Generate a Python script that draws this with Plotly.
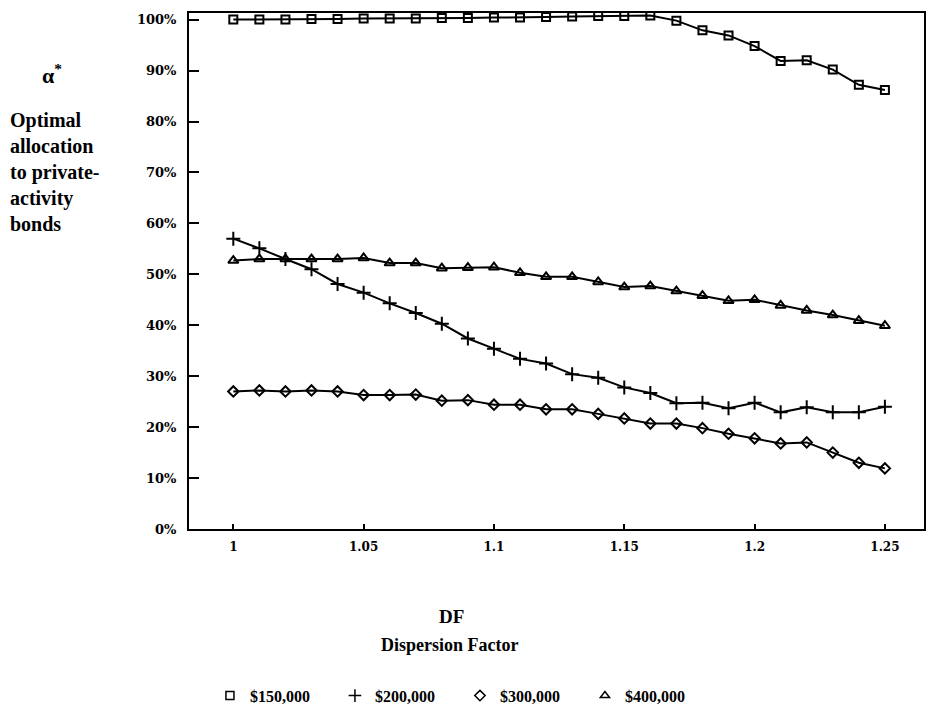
import plotly.graph_objects as go

DF = [1.00, 1.01, 1.02, 1.03, 1.04, 1.05, 1.06, 1.07, 1.08, 1.09, 1.10, 1.11, 1.12,
      1.13, 1.14, 1.15, 1.16, 1.17, 1.18, 1.19, 1.20, 1.21, 1.22, 1.23, 1.24, 1.25]

s150 = [100.0, 100.0, 100.0, 100.1, 100.1, 100.2, 100.2, 100.2, 100.3, 100.3, 100.4, 100.4, 100.5,
        100.6, 100.7, 100.7, 100.8, 99.8, 97.9, 96.9, 94.8, 91.9, 92.0, 90.2, 87.2, 86.2]
s200 = [57.0, 55.1, 53.0, 51.0, 48.1, 46.4, 44.3, 42.4, 40.3, 37.4, 35.4, 33.4, 32.5,
        30.4, 29.7, 27.8, 26.7, 24.7, 24.8, 23.7, 24.8, 22.9, 23.9, 22.9, 22.9, 24.0]
s300 = [27.0, 27.2, 27.0, 27.2, 27.0, 26.3, 26.3, 26.4, 25.2, 25.3, 24.4, 24.4, 23.5,
        23.5, 22.6, 21.7, 20.7, 20.7, 19.8, 18.7, 17.8, 16.8, 17.0, 15.0, 13.0, 11.9]
s400 = [52.7, 53.0, 53.0, 53.0, 53.0, 53.2, 52.2, 52.2, 51.2, 51.3, 51.4, 50.3, 49.5,
        49.5, 48.5, 47.5, 47.7, 46.7, 45.8, 44.8, 45.0, 43.9, 42.9, 42.0, 40.9, 39.9]

names = ["$150,000", "$200,000", "$300,000", "$400,000"]
xticks = [1, 1.05, 1.1, 1.15, 1.2, 1.25]
xticklabels = ["1", "1.05", "1.1", "1.15", "1.2", "1.25"]
yticks = [0, 10, 20, 30, 40, 50, 60, 70, 80, 90, 100]
yticklabels = ["0%", "10%", "20%", "30%", "40%", "50%", "60%", "70%", "80%", "90%", "100%"]

series = [s150, s200, s300, s400]
symbols = ["square-open", "cross-thin-open", "diamond-open", "triangle-up-open"]
sizes = [8, 10, 8, 9]
legend_sizes = [8, 9, 8, 8]

fig = go.Figure()
for vals, nm, sym, sz in zip(series, names, symbols, sizes):
    fig.add_trace(go.Scatter(
        x=DF, y=vals, name=nm, mode="lines+markers", showlegend=False,
        line=dict(color="black", width=2),
        marker=dict(symbol=sym, size=sz, color="black",
                    line=dict(color="black", width=2)),
    ))
# legend entries: markers only, as in the reference
for nm, sym, sz in zip(names, symbols, legend_sizes):
    fig.add_trace(go.Scatter(
        x=[None], y=[None], name=nm, mode="markers", showlegend=True,
        marker=dict(symbol=sym, size=sz, color="black",
                    line=dict(color="black", width=1.5)),
    ))

serif = "DejaVu Serif"
tserif = "Liberation Serif"
W, H = 929, 716
L, R, T, B = 189, 3, 13, 186
pw, ph = W - L - R, H - T - B

def px(x):
    return (x - L) / pw

def py(y):
    return (H - B - y) / ph

fig.update_layout(
    width=W, height=H,
    margin=dict(l=L, r=R, t=T, b=B),
    paper_bgcolor="white", plot_bgcolor="white",
    showlegend=True,
    legend=dict(orientation="h", x=px(210), xanchor="left", y=py(697), yanchor="middle",
                font=dict(family=tserif, size=16, color="black", weight="bold"),
                entrywidth=80, entrywidthmode="pixels", itemwidth=30,
                bgcolor="rgba(0,0,0,0)"),
    xaxis=dict(range=[0.983, 1.265], tickvals=xticks, ticktext=xticklabels,
               showgrid=False, zeroline=False, showline=True, linecolor="black", linewidth=2,
               mirror=True, ticks="inside", ticklen=5, tickwidth=1.5, tickcolor="black",
               tickfont=dict(family=serif, size=12, color="black", weight="bold"),
               ticklabelstandoff=6),
    yaxis=dict(range=[0, 101.3], tickvals=yticks, ticktext=yticklabels,
               showgrid=False, zeroline=False, showline=True, linecolor="black", linewidth=2,
               mirror=True, ticks="inside", ticklen=10, tickwidth=1.5, tickcolor="black",
               tickfont=dict(family=serif, size=13, color="black", weight="bold"),
               ticklabelstandoff=8),
    annotations=[
        dict(text="α<sup>*</sup>", xref="paper", yref="paper", x=px(40), y=py(74),
             xanchor="left", yanchor="middle", showarrow=False,
             font=dict(family=tserif, size=22, color="black", weight="bold")),
        dict(text="Optimal<br>allocation<br>to private-<br>activity<br>bonds",
             xref="paper", yref="paper", x=px(8), y=py(107), xanchor="left", yanchor="top",
             align="left", showarrow=False,
             font=dict(family=tserif, size=20, color="black", weight="bold")),
        dict(text="DF", xref="paper", yref="paper",
             x=px(452), y=py(618), xanchor="center", yanchor="middle",
             showarrow=False,
             font=dict(family=tserif, size=19, color="black", weight="bold")),
        dict(text="Dispersion Factor", xref="paper", yref="paper",
             x=px(450), y=py(646), xanchor="center", yanchor="middle",
             showarrow=False,
             font=dict(family=tserif, size=18, color="black", weight="bold")),
    ],
)

fig.write_html("out.html")
